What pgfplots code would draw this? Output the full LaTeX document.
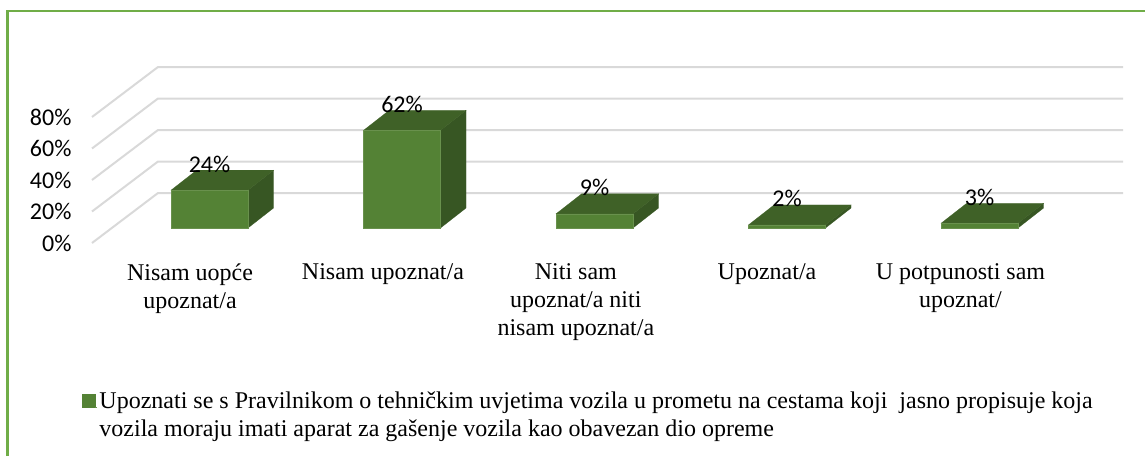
\documentclass[border=0pt]{standalone}
\usepackage{fontspec}
\usepackage{pgfplots}
\pgfplotsset{compat=1.18}
\setmainfont{Liberation Serif}
\newfontfamily\calib{Carlito}
\definecolor{front}{HTML}{548235}
\definecolor{topf}{HTML}{3F6127}
\definecolor{sidef}{HTML}{375623}
\definecolor{gridc}{HTML}{D9D9D9}
\definecolor{frame}{HTML}{70AD47}
\pgfplotsset{
  wall/.style={gridc,line width=2pt,no markers,forget plot},
  sideface/.style={fill=sidef,draw=sidef,line width=.2pt,forget plot},
  topface/.style={fill=topf,draw=topf,line width=.2pt,forget plot},
}
\begin{document}
\begin{tikzpicture}[x=1pt,y=1pt]
\useasboundingbox (0,0) rectangle (1145,456);
\begin{axis}[
  at={(92pt,213pt)},anchor=south west,
  scale only axis,width=1031pt,height=176pt,
  xmin=-0.6104,xmax=4.7455,ymin=-9.52,ymax=102.22,
  clip=false,
  axis line style={draw=none},
  tick style={draw=none},
  xtick={-0.101,0.901,1.903,2.896,3.901},
  xticklabels={Nisam uopće\\upoznat/a,Nisam upoznat/a,Niti sam\\upoznat/a niti\\nisam upoznat/a,Upoznat/a,U potpunosti sam\\upoznat/},
  xticklabel style={align=center,font=\fontsize{24}{28}\selectfont,anchor=north,yshift=-17pt},
  ytick={-9.52,10.48,30.48,50.48,70.48},
  yticklabels={0\%,20\%,40\%,60\%,80\%},
  yticklabel style={font=\calib\fontsize{24}{26}\selectfont,anchor=east,xshift=-17pt,yshift=0pt},
  legend style={at={(axis cs:-0.6104,-9.52)},anchor=north west,xshift=-10pt,yshift=-147pt,
    draw=none,fill=none,inner sep=0pt,outer sep=0pt,
    font=\fontsize{24}{28}\selectfont,
    cells={anchor=west,align=left}},
  legend image code/.code={\fill[front] (0pt,8pt) rectangle (13pt,21pt);\path (13pt,8pt) -- (15pt,8pt);},
]
% walls
\addplot[wall] coordinates {(-0.6104,-9.52) (-0.2675,22.22) (4.7455,22.22)};
\addplot[wall] coordinates {(-0.6104,10.48) (-0.2675,42.22) (4.7455,42.22)};
\addplot[wall] coordinates {(-0.6104,30.48) (-0.2675,62.22) (4.7455,62.22)};
\addplot[wall] coordinates {(-0.6104,50.48) (-0.2675,82.22) (4.7455,82.22)};
\addplot[wall] coordinates {(-0.6104,70.48) (-0.2675,102.22) (4.7455,102.22)};
% side faces
\addplot[sideface] coordinates {(0.2,0) (0.333,12.7) (0.333,36.7) (0.2,24)} --cycle;
\addplot[sideface] coordinates {(1.2,0) (1.333,12.7) (1.333,74.7) (1.2,62)} --cycle;
\addplot[sideface] coordinates {(2.2,0) (2.333,12.7) (2.333,21.7) (2.2,9)} --cycle;
\addplot[sideface] coordinates {(3.2,0) (3.333,12.7) (3.333,14.7) (3.2,2)} --cycle;
\addplot[sideface] coordinates {(4.2,0) (4.333,12.7) (4.333,15.7) (4.2,3)} --cycle;
% top faces
\addplot[topface] coordinates {(-0.2,24) (0.2,24) (0.333,36.7) (-0.067,36.7)} --cycle;
\addplot[topface] coordinates {(0.8,62) (1.2,62) (1.333,74.7) (0.933,74.7)} --cycle;
\addplot[topface] coordinates {(1.8,9) (2.2,9) (2.333,21.7) (1.933,21.7)} --cycle;
\addplot[topface] coordinates {(2.8,2) (3.2,2) (3.333,14.7) (2.933,14.7)} --cycle;
\addplot[topface] coordinates {(3.8,3) (4.2,3) (4.333,15.7) (3.933,15.7)} --cycle;
% front faces
\addplot[ybar,bar width=77pt,bar shift=0pt,fill=front,draw=front!88!white,line width=.5pt,
  point meta=y,
  nodes near coords={\pgfmathprintnumber[assume math mode=true]{\pgfplotspointmeta}\%},
  nodes near coords align={anchor=center},
  every node near coord/.append style={anchor=center,yshift=26pt,text=black,font=\calib\fontsize{24}{26}\selectfont},
] coordinates {(0,24) (1,62) (2,9) (3,2) (4,3)};
\addlegendentry{Upoznati se s Pravilnikom o tehničkim uvjetima vozila u prometu na cestama koji\ \ jasno propisuje koja\\vozila moraju imati aparat za gašenje vozila kao obavezan dio opreme}
\end{axis}
\draw[frame,line width=2.5pt] (7.5,0) -- (7.5,445) -- (1145,445);
\end{tikzpicture}
\end{document}
